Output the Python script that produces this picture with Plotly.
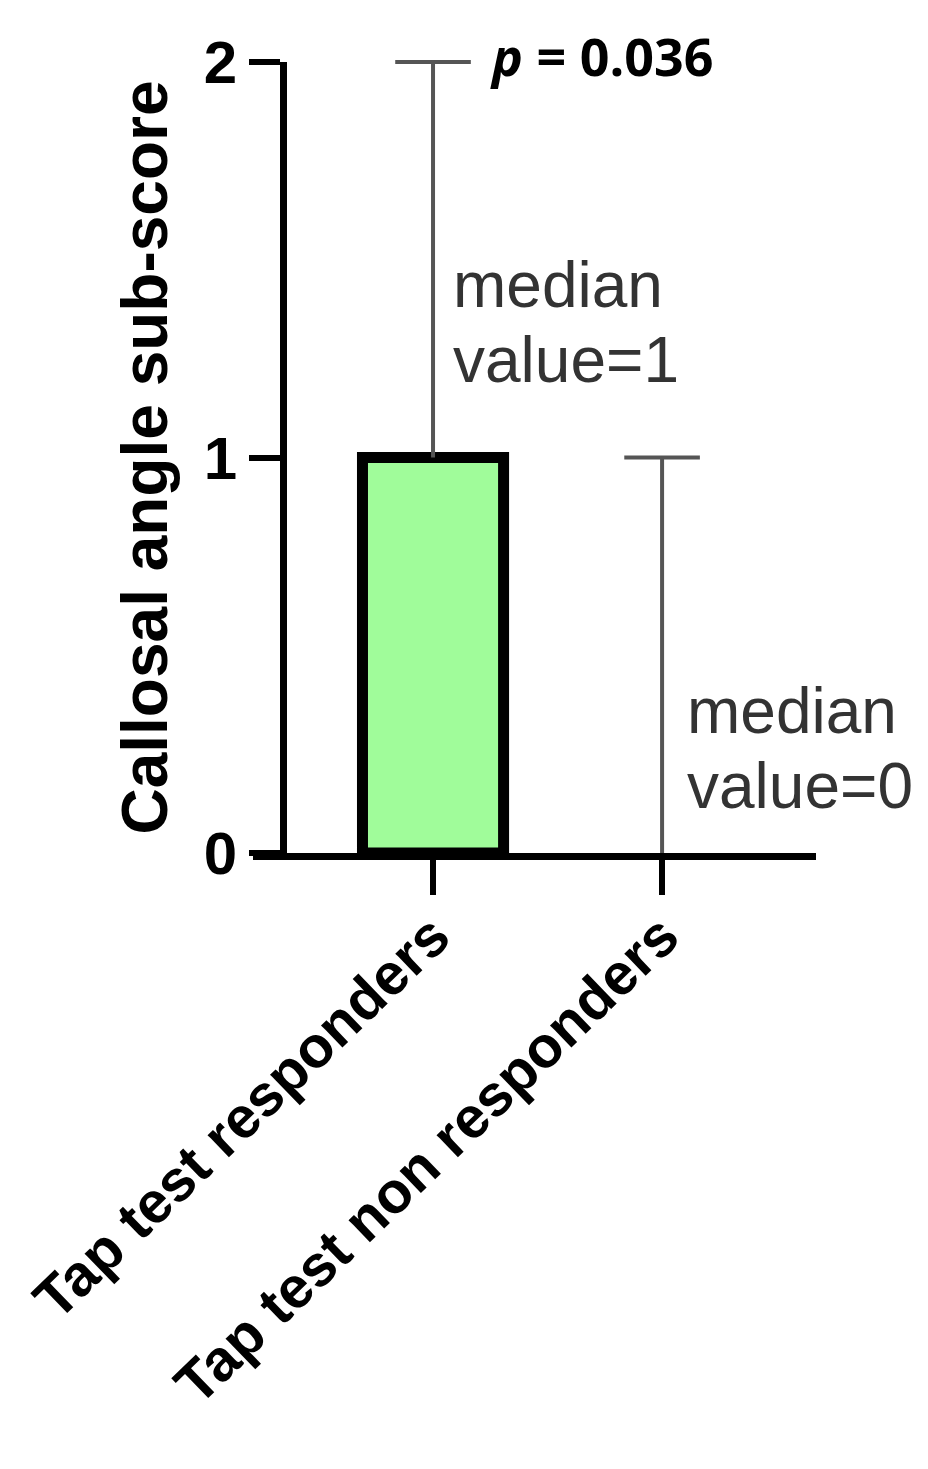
import plotly.graph_objects as go

# Data
groups = ["Tap test responders", "Tap test non responders"]
medians = [1, 0]
upper = [2, 1]          # top of the range whisker
y_ticks = [0, 1, 2]
p_text = "<i>p</i> = 0.036"

ARIAL = "Liberation Sans, Arial, sans-serif"
GREEN = "#a0fc9a"
WHISKER = "#555555"
NOTE_GREY = "#333333"

xpos = list(range(len(groups)))

fig = go.Figure()
fig.add_trace(go.Bar(
    x=xpos, y=medians,
    width=0.616,
    marker=dict(color=GREEN, line=dict(color="black", width=[11, 0])),
    showlegend=False,
))

# whiskers: from the median up to the top of the range, cap only at the top
wx, wy = [], []
for x, m, u in zip(xpos, medians, upper):
    wx += [x, x, None]
    wy += [m, u, None]
fig.add_trace(go.Scatter(
    x=wx, y=wy, mode="lines",
    line=dict(color=WHISKER, width=4),
    showlegend=False, hoverinfo="skip",
))
fig.add_trace(go.Scatter(
    x=xpos, y=upper, mode="markers",
    marker=dict(symbol="line-ew", size=54, color=WHISKER,
                line=dict(color=WHISKER, width=4)),
    showlegend=False, hoverinfo="skip", cliponaxis=False,
))

# median labels, one annotation per line so the spacing matches
note_pos = [(0.08, 1.436, 1.247), (1.10, 0.359, 0.169)]
for (nx, y1, y2), m in zip(note_pos, medians):
    for ny, line in ((y1, "median"), (y2, f"value={m}")):
        fig.add_annotation(x=nx, y=ny, xref="x", yref="y", text=line,
                           showarrow=False, xanchor="left", yanchor="middle",
                           font=dict(family=ARIAL, size=64, color=NOTE_GREY))

# p-value
fig.add_annotation(x=0.24, y=2, xref="x", yref="y", text=f"<b>{p_text}</b>",
                   showarrow=False, xanchor="left", yanchor="middle", yshift=7,
                   font=dict(family="Open Sans, sans-serif", size=52, color="black"))

fig.update_layout(
    width=912, height=1453,
    paper_bgcolor="white", plot_bgcolor="white",
    margin=dict(l=245, r=104, t=54, b=608),
    font=dict(family=ARIAL, color="black"),
    xaxis=dict(
        range=[-0.786, 1.672], automargin=False,
        tickvals=xpos, ticktext=[f"<b>{g}</b>" for g in groups],
        tickangle=-44, tickfont=dict(size=58, family=ARIAL),
        ticklabelstandoff=-16,
        showline=True, linecolor="black", linewidth=7,
        ticks="outside", ticklen=35, tickwidth=6, tickcolor="black",
        showgrid=False, zeroline=False,
    ),
    yaxis=dict(
        range=[0, 2], tickvals=y_ticks, automargin=False,
        ticktext=[f"<b>{t}</b>" for t in y_ticks],
        tickfont=dict(size=60, family=ARIAL),
        anchor="free", position=30 / 563, side="left",
        showline=True, linecolor="black", linewidth=7,
        ticks="outside", ticklen=31, tickwidth=6, tickcolor="black",
        showgrid=False, zeroline=False,
        title=dict(text="<b>Callosal angle sub-score</b>",
                   font=dict(size=64, family=ARIAL), standoff=14),
    ),
)

fig.write_html("out.html")
